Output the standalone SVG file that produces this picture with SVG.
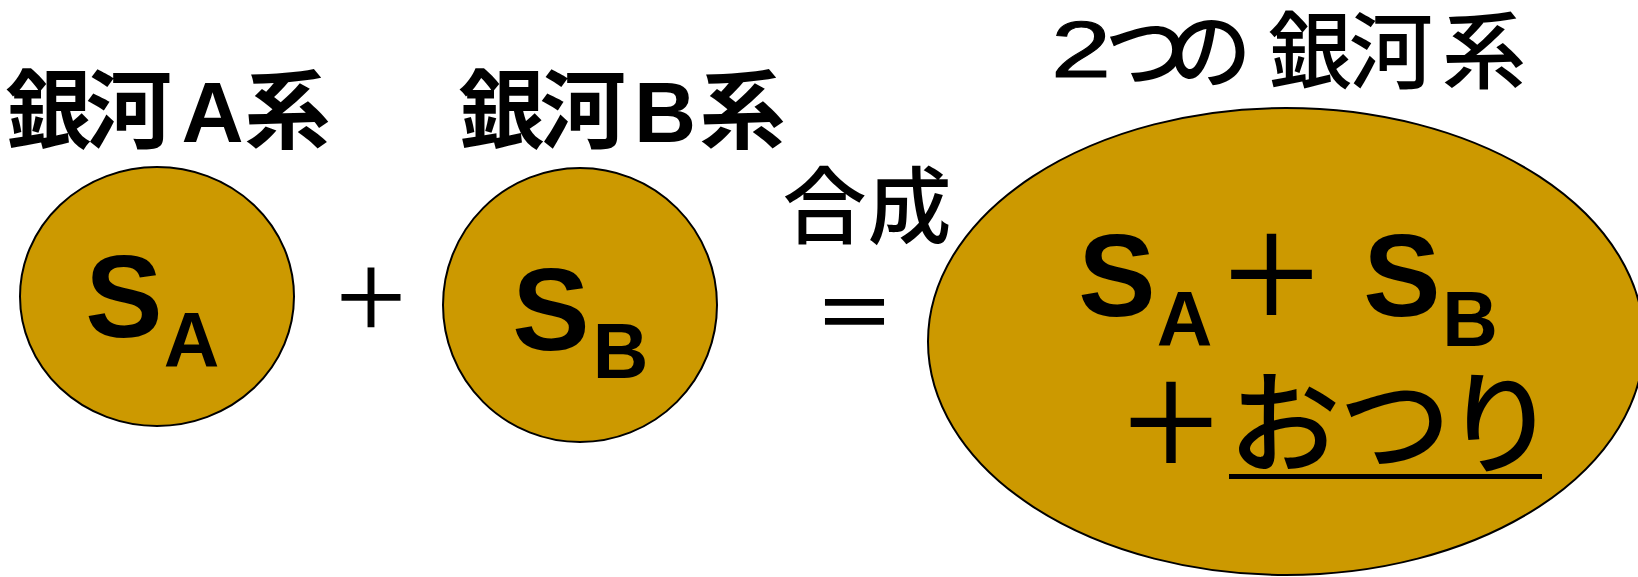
<svg xmlns="http://www.w3.org/2000/svg" width="1638" height="577" viewBox="0 0 1638 577">
  <style>
    .galaxy { fill: #CC9900; stroke: #000; stroke-width: 2; }
    .t { font-family: "Liberation Sans", "Noto Sans CJK JP", sans-serif; fill: #000; text-anchor: middle; }
    .b { font-weight: bold; }
    .j { font-family: "Noto Sans CJK JP", "Liberation Sans", sans-serif; font-weight: 500; fill: #000; text-anchor: middle; }
  </style>
  <rect width="1638" height="577" fill="#fff"/>

  <g id="galaxy-a">
    <text class="t b" font-size="86" x="48.5 129 212.5 287.5" y="142">銀河A系</text>
    <ellipse class="galaxy" cx="157" cy="296.5" rx="137" ry="129.5"/>
    <text class="t b" font-size="116" x="124" y="337">S</text>
    <text class="t b" font-size="77" x="191.5" y="367">A</text>
  </g>

  <g id="plus-op">
    <text class="j" font-size="82" x="371" y="327.5">＋</text>
  </g>

  <g id="galaxy-b">
    <text class="t b" font-size="86" x="501.5 583 665 742.5" y="142">銀河B系</text>
    <ellipse class="galaxy" cx="580" cy="305" rx="137" ry="137"/>
    <text class="t b" font-size="116" x="551" y="350">S</text>
    <text class="t b" font-size="77" x="620.5" y="378">B</text>
  </g>

  <g id="equals-op">
    <text class="j" font-size="84" x="824.5 909.5" y="237">合成</text>
    <text class="j" font-size="82" x="854.5" y="342.5">＝</text>
  </g>

  <g id="combined">
    <text class="t" font-size="80" stroke="#000" stroke-width="1" transform="translate(1081,77) scale(1.35,1)">2</text>
    <text class="j" font-size="84" x="1146.5 1209.5 1310 1391 1484" y="82">つの銀河系</text>
    <ellipse class="galaxy" cx="1286" cy="341.5" rx="358" ry="233.5"/>
    <text class="t b" font-size="116" x="1117" y="316">S</text>
    <text class="t b" font-size="77" x="1184.5" y="346">A</text>
    <text class="j" font-size="112" x="1271.5" y="317">＋</text>
    <text class="t b" font-size="116" x="1402" y="316">S</text>
    <text class="t b" font-size="77" x="1470" y="346">B</text>
    <text class="j" font-size="112" x="1171 1284.5 1395 1500.5" y="465">＋おつり</text>
    <rect x="1229" y="474" width="313" height="5" fill="#000"/>
  </g>
</svg>
